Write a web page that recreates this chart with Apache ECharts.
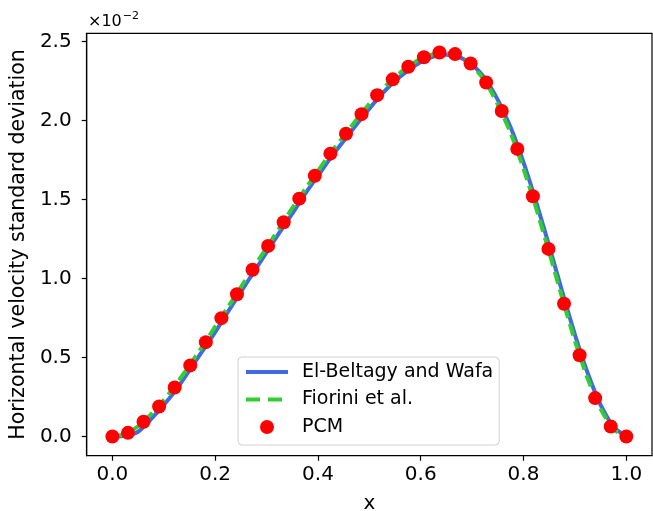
<!DOCTYPE html>
<html>
<head>
<meta charset="utf-8">
<script src="https://cdn.jsdelivr.net/npm/echarts@6/dist/echarts.min.js"></script>
<style>
html,body{margin:0;padding:0;background:#fff;}
#c{width:653px;height:511px;}
</style>
</head>
<body>
<div id="c"></div>
<script>
// values in units of 1e-2
const pcmX = [0, 0.0303, 0.0606, 0.0909, 0.1212, 0.1515, 0.1818, 0.2121, 0.2424, 0.2727, 0.3030, 0.3333, 0.3636, 0.3939, 0.4242, 0.4545, 0.4848, 0.5152, 0.5455, 0.5758, 0.6061, 0.6364, 0.6667, 0.6970, 0.7273, 0.7576, 0.7879, 0.8182, 0.8485, 0.8788, 0.9091, 0.9394, 0.9697, 1.0];
const pcmY = [0, 0.023, 0.093, 0.19, 0.31, 0.45, 0.597, 0.749, 0.90, 1.055, 1.206, 1.356, 1.505, 1.65, 1.79, 1.916, 2.04, 2.16, 2.26, 2.34, 2.40, 2.43, 2.42, 2.36, 2.24, 2.06, 1.82, 1.52, 1.187, 0.84, 0.514, 0.243, 0.063, 0];

const lineX = [0, 0.025, 0.05, 0.075, 0.1, 0.125, 0.15, 0.175, 0.2, 0.225, 0.25, 0.275, 0.3, 0.325, 0.35, 0.375, 0.4, 0.425, 0.45, 0.475, 0.5, 0.525, 0.55, 0.575, 0.6, 0.625, 0.65, 0.675, 0.7, 0.725, 0.75, 0.775, 0.8, 0.825, 0.85, 0.875, 0.9, 0.925, 0.95, 0.975, 1.0];
const elBeltagyY = [0, 0.005, 0.03, 0.11, 0.20, 0.30, 0.42, 0.54, 0.66, 0.79, 0.915, 1.04, 1.165, 1.29, 1.41, 1.535, 1.65, 1.765, 1.87, 1.975, 2.075, 2.17, 2.25, 2.315, 2.37, 2.405, 2.415, 2.40, 2.355, 2.265, 2.13, 1.955, 1.735, 1.48, 1.205, 0.92, 0.645, 0.40, 0.20, 0.06, 0];
const fioriniY = [0, 0.015, 0.065, 0.14, 0.23, 0.335, 0.45, 0.57, 0.695, 0.82, 0.945, 1.07, 1.195, 1.32, 1.445, 1.565, 1.68, 1.795, 1.90, 2.005, 2.105, 2.195, 2.275, 2.34, 2.39, 2.42, 2.425, 2.405, 2.345, 2.25, 2.10, 1.92, 1.695, 1.44, 1.165, 0.88, 0.605, 0.365, 0.175, 0.045, 0];

const xTicks = [0, 0.2, 0.4, 0.6, 0.8, 1.0];
const yTicks = [0, 0.5, 1.0, 1.5, 2.0, 2.5];

const zip = (xs, ys) => xs.map((x, i) => [x, ys[i]]);
const FONT = 'DejaVu Sans';

const chart = echarts.init(document.getElementById('c'), null, {renderer: 'canvas'});
chart.setOption({
  animation: false,
  backgroundColor: '#ffffff',
  grid: {left: 86.7, right: 1, top: 33.3, bottom: 55.3, containLabel: false, outerBoundsMode: 'none',
         show: true, borderColor: '#000', borderWidth: 1.2, backgroundColor: 'transparent'},
  xAxis: {
    type: 'value', min: -0.05, max: 1.05,
    name: 'x', nameLocation: 'middle', nameGap: 38,
    nameTextStyle: {fontFamily: FONT, fontSize: 20, color: '#000'},
    axisLine: {show: true, onZero: false, lineStyle: {color: '#000', width: 1.2}},
    axisTick: {show: true, inside: false, length: 5, customValues: xTicks, lineStyle: {color: '#000', width: 1.2}},
    axisLabel: {customValues: xTicks, margin: 9, fontFamily: FONT, fontSize: 20, color: '#000', formatter: v => v.toFixed(1)},
    splitLine: {show: false}
  },
  yAxis: {
    type: 'value', min: -0.1215, max: 2.5515,
    name: 'Horizontal velocity standard deviation', nameLocation: 'middle', nameGap: 57,
    nameTextStyle: {fontFamily: FONT, fontSize: 20.5, color: '#000'},
    axisLine: {show: true, onZero: false, lineStyle: {color: '#000', width: 1.2}},
    axisTick: {show: true, inside: false, length: 5, customValues: yTicks, lineStyle: {color: '#000', width: 1.2}},
    axisLabel: {customValues: yTicks, margin: 15, fontFamily: FONT, fontSize: 20, color: '#000', formatter: v => v.toFixed(1)},
    splitLine: {show: false}
  },
  legend: {
    orient: 'vertical', left: 238, top: 357,
    backgroundColor: '#fff', borderColor: '#d0d0d0', borderWidth: 1, borderRadius: 4,
    padding: [5, 6, 8, 6], itemGap: 7.5, itemWidth: 42, itemHeight: 14,
    textStyle: {fontFamily: FONT, fontSize: 19, color: '#000', lineHeight: 20, padding: [0, 0, 0, 9]},
    data: [
      {name: 'El-Beltagy and Wafa', itemStyle: {opacity: 0}, lineStyle: {width: 4, color: '#4169E1'}},
      {name: 'Fiorini et al.', itemStyle: {opacity: 0}, lineStyle: {width: 4, color: '#32CD32', type: [14, 8]}},
      {name: 'PCM'}
    ]
  },
  graphic: [{
    type: 'text', left: 88, top: 11,
    style: {
      text: '{a|×10}{b|−2}',
      rich: {
        a: {fontFamily: FONT, fontSize: 16, fill: '#000', verticalAlign: 'bottom'},
        b: {fontFamily: FONT, fontSize: 11, fill: '#000', verticalAlign: 'top', padding: [0, 0, 8, 1]}
      }
    }
  }],
  series: [
    {name: 'El-Beltagy and Wafa', type: 'line', data: zip(lineX, elBeltagyY), symbol: 'none', smooth: 0.2,
     lineStyle: {color: '#4169E1', width: 4}, itemStyle: {color: '#4169E1'}, z: 2},
    {name: 'Fiorini et al.', type: 'line', data: zip(lineX, fioriniY), symbol: 'none', smooth: 0.2,
     lineStyle: {color: '#32CD32', width: 4, type: [12, 6]}, itemStyle: {color: '#32CD32'}, z: 3},
    {name: 'PCM', type: 'scatter', data: zip(pcmX, pcmY), symbol: 'circle', symbolSize: 14,
     itemStyle: {color: '#ff0000', opacity: 1}, z: 4}
  ]
});
</script>
</body>
</html>
